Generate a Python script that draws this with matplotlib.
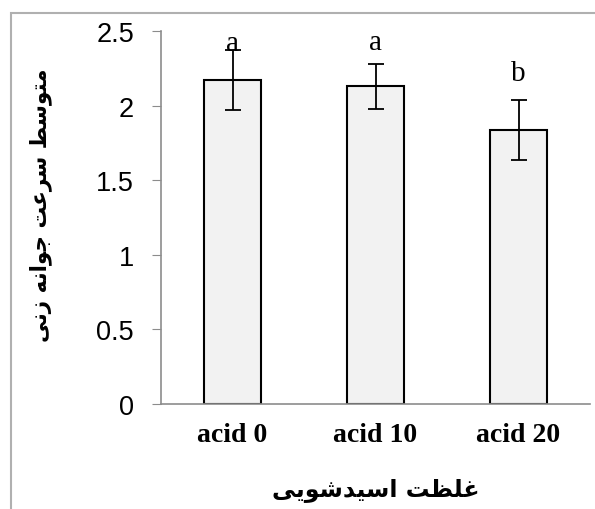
import numpy as np
import matplotlib
matplotlib.use("Agg")
from matplotlib import pyplot as plt
from matplotlib.patches import Rectangle

categories = ["acid 0", "acid 10", "acid 20"]
means = [2.17, 2.13, 1.835]
errors = [0.2, 0.15, 0.2]
letters = ["a", "a", "b"]
letter_y = [2.37, 2.38, 2.17]
y_ticks = [0, 0.5, 1, 1.5, 2, 2.5]
y_ticklabels = ["0", "0.5", "1", "1.5", "2", "2.5"]
ylabel_fa = "متوسط سرعت جوانه زنی"
xlabel_fa = "غلظت اسیدشویی"

# arabic presentation forms: isolated, final, initial, medial
forms = {
    "ا": ("\ufe8d", "\ufe8e", None, None),
    "ت": ("\ufe95", "\ufe96", "\ufe97", "\ufe98"),
    "ج": ("\ufe9d", "\ufe9e", "\ufe9f", "\ufea0"),
    "د": ("\ufea9", "\ufeaa", None, None),
    "ر": ("\ufead", "\ufeae", None, None),
    "ز": ("\ufeaf", "\ufeb0", None, None),
    "س": ("\ufeb1", "\ufeb2", "\ufeb3", "\ufeb4"),
    "ش": ("\ufeb5", "\ufeb6", "\ufeb7", "\ufeb8"),
    "ط": ("\ufec1", "\ufec2", "\ufec3", "\ufec4"),
    "ظ": ("\ufec5", "\ufec6", "\ufec7", "\ufec8"),
    "ع": ("\ufec9", "\ufeca", "\ufecb", "\ufecc"),
    "غ": ("\ufecd", "\ufece", "\ufecf", "\ufed0"),
    "ل": ("\ufedd", "\ufede", "\ufedf", "\ufee0"),
    "م": ("\ufee1", "\ufee2", "\ufee3", "\ufee4"),
    "ن": ("\ufee5", "\ufee6", "\ufee7", "\ufee8"),
    "ه": ("\ufee9", "\ufeea", "\ufeeb", "\ufeec"),
    "و": ("\ufeed", "\ufeee", None, None),
    "ی": ("\ufbfc", "\ufbfd", "\ufbfe", "\ufbff"),
}


def shape(txt):
    out = []
    for i, c in enumerate(txt):
        if c not in forms:
            out.append(c)
            continue
        prev = txt[i - 1] if i > 0 else " "
        nxt = txt[i + 1] if i < len(txt) - 1 else " "
        join_prev = prev in forms and forms[prev][2] is not None
        join_next = forms[c][2] is not None and nxt in forms
        f = forms[c]
        if join_prev and join_next:
            out.append(f[3])
        elif join_prev:
            out.append(f[1])
        elif join_next:
            out.append(f[2])
        else:
            out.append(f[0])
    return "".join(out)[::-1]


fig = plt.figure(figsize=(5.95, 5.1), dpi=100)
fig.patches.append(Rectangle((11 / 595, -0.1), 1.2, 1 - 14 / 510 + 0.1,
                             transform=fig.transFigure, fill=False,
                             edgecolor="#b0b0b0", linewidth=1.5))

ax = fig.add_axes([161 / 595, 1 - 405 / 510, 429 / 595, 373 / 510])
x = np.arange(len(categories))
ax.bar(x, means, width=0.405, color="#f2f2f2", edgecolor="black",
       linewidth=1.5, zorder=2)
ax.errorbar(x, means, yerr=errors, fmt="none", ecolor="black",
            elinewidth=1.3, capsize=6, capthick=1.3, zorder=3)

for i in range(len(x)):
    ax.text(x[i], letter_y[i], letters[i], ha="center", va="baseline",
            fontsize=21, family="Liberation Serif")

ax.set_xlim(-0.5, 2.5)
ax.set_ylim(0, 2.5)
ax.set_yticks(y_ticks)
ax.set_yticklabels(y_ticklabels, fontsize=19.5, family="Liberation Sans")
ax.set_xticks(x)
ax.set_xticklabels(categories, fontsize=20, fontweight="bold",
                   family="Liberation Serif")
ax.tick_params(axis="x", length=0, pad=13)
ax.tick_params(axis="y", length=6.5, color="#8c8c8c", pad=13)

for s in ["top", "right"]:
    ax.spines[s].set_visible(False)
for s in ["left", "bottom"]:
    ax.spines[s].set_color("#8c8c8c")
    ax.spines[s].set_linewidth(1.2)

fig.text(41 / 595, 1 - 205 / 510, shape(ylabel_fa), rotation=90,
         ha="center", va="center", fontsize=15.5, fontweight="bold",
         family="DejaVu Sans")
fig.text(376 / 595, 1 - 490 / 510, shape(xlabel_fa), ha="center",
         va="center", fontsize=17, fontweight="bold", family="DejaVu Sans")

fig.savefig("out.png", dpi=100)
